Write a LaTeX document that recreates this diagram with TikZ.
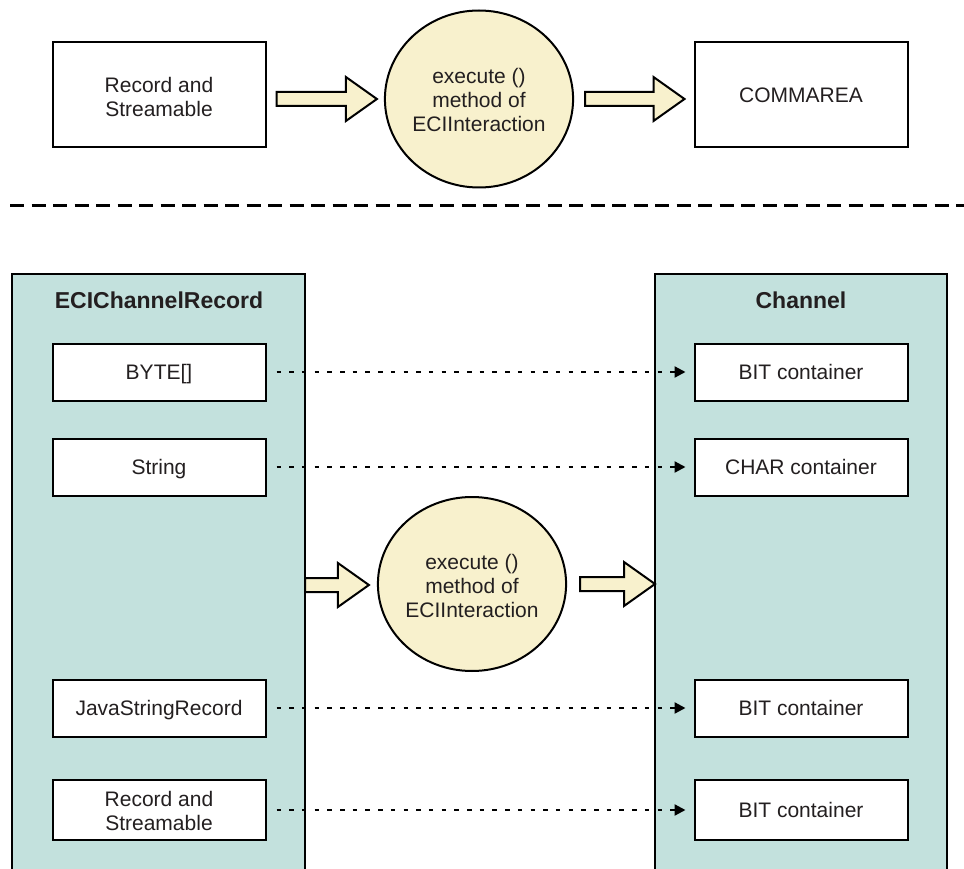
\documentclass[tikz,border=0pt]{standalone}
\usepackage{fontspec}
\setmainfont{Liberation Sans}
\usetikzlibrary{arrows.meta,positioning,calc,shapes.geometric}

\definecolor{panelTeal}{HTML}{C3E1DD}
\definecolor{cream}{HTML}{F8F1CD}
\definecolor{inkGray}{HTML}{231F20}

% fat block arrow: #1 tail, #2 tip
\newcommand{\fatarrow}[2]{%
	\draw[fatArrow] let \p1=(#1), \p2=(#2) in
		(\x1,\y1+7) -- (\x2-31,\y1+7) -- (\x2-31,\y1+22) -- (\x2,\y1)
		-- (\x2-31,\y1-22) -- (\x2-31,\y1-7) -- (\x1,\y1-7) -- cycle;}

\begin{document}
\begin{tikzpicture}[x=1pt,y=-1pt,line width=2pt,
				every node/.style={text=inkGray,font=\fontsize{21}{24}\selectfont,text depth=0pt},
				plainBox/.style={draw,fill=white,minimum width=213pt,align=center,inner sep=0pt},
				bigBox/.style={plainBox,minimum height=105pt},
				itemBox/.style={plainBox,minimum height=57pt},
				oneLine/.style={text height=15pt},
				twoLine/.style={text height=#1},
				twoLine/.default=44pt,
				methodCircle/.style={draw,fill=cream,ellipse,minimum width=185pt,minimum height=177pt,align=center,inner sep=0pt,text height=66pt},
				panel/.style={draw,fill=panelTeal},
				panelTitle/.style={font=\fontsize{23}{26}\selectfont\bfseries,text height=16.5pt},
				fatArrow/.style={draw,fill=cream,line width=2pt,line join=miter},
				mapArrow/.style={line width=2.3pt,dash pattern=on 4.5pt off 8.2pt,-{Triangle[length=11pt,width=11pt]}}]
	\useasboundingbox (0,0) rectangle (964,869);
	\clip (0,0) rectangle (964,869);

	% top row: COMMAREA
	\node [bigBox,twoLine] (rec) at (159,95) {Record and\\Streamable};
	\node [methodCircle] (exeTop) at (479,99) {execute ()\\method of\\ECIInteraction};
	\node [bigBox,oneLine] (comm) at (801,95) {COMMAREA};
	\fatarrow{$(exeTop.west-|rec.east)+(10,0)$}{$(exeTop.west)+(-7,0)$}
	\fatarrow{$(exeTop.east)+(11,0)$}{$(exeTop.east-|comm.west)+(-9,0)$}

	% separator
	\draw [line width=3pt,dash pattern=on 14pt off 7.5pt] (10,206) -- (964,206);

	% bottom: channel
	\draw [panel] (12,274) rectangle (305,900);
	\draw [panel] (655,274) rectangle (947,900);
	\node [panelTitle] (recTitle) at (159,300) {ECIChannelRecord};
	\node [panelTitle] (chTitle) at (801,300) {Channel};

	\node [itemBox,oneLine] (byte) at (159,372) {BYTE[]};
	\node [itemBox,oneLine] (str) at (159,467) {String};
	\node [itemBox,oneLine] (jsr) at (159,708) {JavaStringRecord};
	\node [itemBox,twoLine=41pt,minimum height=60pt] (rs) at (159,810) {Record and\\Streamable};

	\node [itemBox,oneLine] (bitA) at (801,372) {BIT container};
	\node [itemBox,oneLine] (charC) at (801,467) {CHAR container};
	\node [itemBox,oneLine] (bitB) at (801,708) {BIT container};
	\node [itemBox,oneLine,minimum height=60pt] (bitC) at (801,810) {BIT container};

	\draw [mapArrow] ($(byte.east)+(10,0)$) -- ($(bitA.west)+(-8,0)$);
	\draw [mapArrow] ($(str.east)+(10,0)$) -- ($(charC.west)+(-8,0)$);
	\draw [mapArrow] ($(jsr.east)+(10,0)$) -- ($(bitB.west)+(-8,0)$);
	\draw [mapArrow] ($(rs.east)+(10,0)$) -- ($(bitC.west)+(-8,0)$);

	\node [methodCircle,minimum height=174pt] (exeBot) at (472,584) {execute ()\\method of\\ECIInteraction};
	\coordinate (recEdge) at (305,585);
	\coordinate (chEdge) at (655,585);
	\fatarrow{recEdge}{$(exeBot.west)+(-8,0)$}
	\fatarrow{$(exeBot.east)+(13,0)$}{chEdge}
\end{tikzpicture}
\end{document}
